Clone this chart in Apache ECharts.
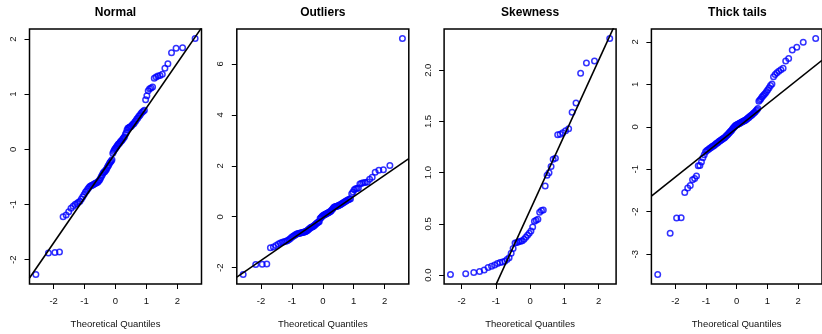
<!DOCTYPE html>
<html>
<head>
<meta charset="utf-8">
<script src="https://cdn.jsdelivr.net/npm/echarts@6/dist/echarts.min.js"></script>
<style>
html,body{margin:0;padding:0;background:#ffffff}
#chart{width:822px;height:334px}
</style>
</head>
<body>
<div id="chart"></div>
<script>
// Normal Q-Q plots of four samples, one panel each
const panelTitles = ['Normal', 'Outliers', 'Skewness', 'Thick tails'];

// theoretical normal quantiles for samples of 100 and 50
const quantiles100 = [
  -2.576,-2.170,-1.960,-1.812,-1.695,-1.598,-1.514,-1.440,-1.372,-1.311,
  -1.254,-1.200,-1.150,-1.103,-1.058,-1.015,-0.974,-0.935,-0.896,-0.860,
  -0.824,-0.789,-0.755,-0.722,-0.690,-0.659,-0.628,-0.598,-0.568,-0.539,
  -0.510,-0.482,-0.454,-0.426,-0.399,-0.372,-0.345,-0.319,-0.292,-0.266,
  -0.240,-0.215,-0.189,-0.164,-0.138,-0.113,-0.088,-0.063,-0.038,-0.013,
  0.013,0.038,0.063,0.088,0.113,0.138,0.164,0.189,0.215,0.240,
  0.266,0.292,0.319,0.345,0.372,0.399,0.426,0.454,0.482,0.510,
  0.539,0.568,0.598,0.628,0.659,0.690,0.722,0.755,0.789,0.824,
  0.860,0.896,0.935,0.974,1.015,1.058,1.103,1.150,1.200,1.254,
  1.311,1.372,1.440,1.514,1.598,1.695,1.812,1.960,2.170,2.576
];
const quantiles50 = [
  -2.326,-1.881,-1.645,-1.476,-1.341,-1.227,-1.126,-1.036,-0.954,-0.878,
  -0.806,-0.739,-0.674,-0.613,-0.553,-0.496,-0.440,-0.385,-0.332,-0.279,
  -0.228,-0.176,-0.126,-0.075,-0.025,0.025,0.075,0.126,0.176,0.228,
  0.279,0.332,0.385,0.440,0.496,0.553,0.613,0.674,0.739,0.806,
  0.878,0.954,1.036,1.126,1.227,1.341,1.476,1.645,1.881,2.326
];

// sorted sample values
const normalSample = [
  -2.27,-1.88,-1.87,-1.86,-1.22,-1.19,-1.13,-1.07,-1.03,-1.00,
  -0.98,-0.96,-0.94,-0.90,-0.86,-0.82,-0.78,-0.75,-0.72,-0.69,
  -0.67,-0.66,-0.65,-0.64,-0.63,-0.62,-0.61,-0.60,-0.59,-0.57,
  -0.55,-0.52,-0.49,-0.46,-0.43,-0.41,-0.40,-0.38,-0.36,-0.33,
  -0.30,-0.28,-0.25,-0.23,-0.21,-0.19,-0.07,-0.04,-0.01,0.01,
  0.03,0.05,0.07,0.09,0.10,0.12,0.14,0.15,0.17,0.19,
  0.21,0.23,0.27,0.30,0.35,0.38,0.39,0.40,0.41,0.42,
  0.44,0.46,0.47,0.50,0.52,0.55,0.57,0.60,0.62,0.65,
  0.67,0.69,0.71,0.90,0.97,1.06,1.10,1.11,1.13,1.29,
  1.31,1.33,1.34,1.36,1.47,1.55,1.75,1.83,1.84,2.01
];
const outlierSample = [
  -2.27,-1.88,-1.87,-1.86,-1.22,-1.19,-1.13,-1.07,-1.03,-1.00,
  -0.98,-0.96,-0.94,-0.90,-0.86,-0.82,-0.78,-0.75,-0.72,-0.69,
  -0.67,-0.66,-0.65,-0.64,-0.63,-0.62,-0.61,-0.60,-0.59,-0.57,
  -0.55,-0.52,-0.49,-0.46,-0.43,-0.41,-0.40,-0.38,-0.36,-0.33,
  -0.30,-0.28,-0.25,-0.23,-0.21,-0.19,-0.07,-0.04,-0.01,0.03,
  0.05,0.07,0.09,0.10,0.12,0.14,0.15,0.17,0.19,0.21,
  0.23,0.27,0.30,0.35,0.38,0.39,0.40,0.41,0.42,0.44,
  0.46,0.47,0.50,0.52,0.55,0.57,0.60,0.62,0.65,0.67,
  0.69,0.71,0.90,0.97,1.06,1.10,1.11,1.13,1.29,1.31,
  1.33,1.34,1.36,1.47,1.55,1.75,1.83,1.84,2.01,7.00
];
const skewSample = [
  0.006,0.013,0.025,0.035,0.050,0.075,0.088,0.100,0.115,0.124,
  0.128,0.137,0.153,0.170,0.215,0.260,0.315,0.320,0.325,0.330,
  0.335,0.350,0.370,0.390,0.410,0.430,0.470,0.525,0.535,0.545,
  0.615,0.630,0.635,0.870,0.975,1.000,1.060,1.130,1.140,1.370,
  1.375,1.390,1.410,1.430,1.590,1.680,1.970,2.070,2.090,2.310
];
const thickSample = [
  -3.48,-2.51,-2.15,-2.14,-1.55,-1.44,-1.38,-1.25,-1.22,-1.16,
  -0.92,-0.91,-0.83,-0.73,-0.66,-0.59,-0.56,-0.54,-0.52,-0.50,
  -0.48,-0.46,-0.45,-0.43,-0.41,-0.39,-0.38,-0.36,-0.34,-0.33,
  -0.31,-0.30,-0.28,-0.27,-0.26,-0.24,-0.22,-0.20,-0.18,-0.16,
  -0.14,-0.12,-0.10,-0.08,-0.05,-0.03,-0.01,0.01,0.03,0.04,
  0.05,0.06,0.07,0.08,0.09,0.10,0.11,0.12,0.13,0.14,
  0.15,0.16,0.18,0.19,0.21,0.22,0.24,0.26,0.27,0.29,
  0.31,0.33,0.35,0.38,0.40,0.43,0.60,0.63,0.66,0.70,
  0.73,0.76,0.79,0.83,0.87,0.92,0.97,1.01,1.18,1.23,
  1.27,1.31,1.34,1.38,1.55,1.61,1.81,1.87,1.99,2.08
];

// reference lines (intercept, slope) through the quartiles
const lineIntercepts = [-0.065, -0.045, 0.635, -0.035];
const lineSlopes = [0.815, 0.835, 0.730, 0.575];

// tick positions
const xTicks = [-2, -1, 0, 1, 2];
const yTicks = [
  [-2, -1, 0, 1, 2],
  [-2, 0, 2, 4, 6],
  [0, 0.5, 1, 1.5, 2],
  [-3, -2, -1, 0, 1, 2]
];
const yDecimals = [0, 0, 1, 0];

const panels = [
  { x: quantiles100, y: normalSample },
  { x: quantiles100, y: outlierSample },
  { x: quantiles50, y: skewSample },
  { x: quantiles100, y: thickSample }
];

const FONT = 'Liberation Sans, Arial, Helvetica, sans-serif';
const PANEL_LEFT = 29.5, PANEL_STEP = 207.3, PANEL_W = 172, PANEL_TOP = 29, PANEL_H = 260;

// data range widened by 4% on each side
function paddedRange(arr) {
  const lo = Math.min.apply(null, arr), hi = Math.max.apply(null, arr);
  const pad = (hi - lo) * 0.04;
  return [lo - pad, hi + pad];
}

const grids = [], xAxes = [], yAxes = [], series = [], graphics = [];

panels.forEach((p, i) => {
  const left = PANEL_LEFT + PANEL_STEP * i;
  grids.push({
    left: left, top: PANEL_TOP, width: PANEL_W, height: PANEL_H,
    show: true, borderColor: '#000', borderWidth: 1.5, backgroundColor: 'transparent'
  });
  const xr = paddedRange(p.x);
  const yr = paddedRange(p.y);
  const dec = yDecimals[i];
  xAxes.push({
    type: 'value', gridIndex: i, min: xr[0], max: xr[1], position: 'bottom',
    splitLine: { show: false },
    axisLine: { show: false, onZero: false },
    axisTick: { show: true, customValues: xTicks, length: 5, lineStyle: { color: '#000', width: 1 } },
    axisLabel: { customValues: xTicks, fontSize: 9.5, color: '#111', margin: 12, fontFamily: FONT,
      formatter: v => String(v) },
    name: 'Theoretical Quantiles', nameLocation: 'middle', nameGap: 35,
    nameTextStyle: { fontSize: 9.5, color: '#111', fontFamily: FONT }
  });
  yAxes.push({
    type: 'value', gridIndex: i, min: yr[0], max: yr[1], position: 'left',
    splitLine: { show: false },
    axisLine: { show: false, onZero: false },
    axisTick: { show: true, customValues: yTicks[i], length: 5, lineStyle: { color: '#000', width: 1 } },
    axisLabel: { customValues: yTicks[i], fontSize: 9.5, color: '#111', margin: 11, rotate: 90, fontFamily: FONT,
      formatter: v => Number(v).toFixed(dec) }
  });
  series.push({
    type: 'scatter', xAxisIndex: i, yAxisIndex: i,
    data: p.x.map((q, k) => [q, p.y[k]]),
    symbol: 'circle', symbolSize: 5.5,
    itemStyle: { color: 'rgba(0,0,0,0)', borderColor: '#0000ff', borderWidth: 1.5 },
    silent: true, animation: false, z: 3
  });
  const a = lineIntercepts[i], b = lineSlopes[i];
  series.push({
    type: 'line', xAxisIndex: i, yAxisIndex: i,
    data: [[xr[0], a + b * xr[0]], [xr[1], a + b * xr[1]]],
    symbol: 'none', clip: true,
    lineStyle: { color: '#000', width: 1.6 },
    silent: true, animation: false, z: 4
  });
  graphics.push({
    type: 'text', x: left + PANEL_W / 2, y: 12.5,
    style: { text: panelTitles[i], fill: '#000', textAlign: 'center', textVerticalAlign: 'middle',
      font: 'bold 12px ' + FONT }
  });
});

const chart = echarts.init(document.getElementById('chart'), null, { renderer: 'canvas' });
chart.setOption({
  animation: false,
  backgroundColor: '#ffffff',
  textStyle: { fontFamily: FONT },
  grid: grids,
  xAxis: xAxes,
  yAxis: yAxes,
  series: series,
  graphic: graphics
});
</script>
</body>
</html>
